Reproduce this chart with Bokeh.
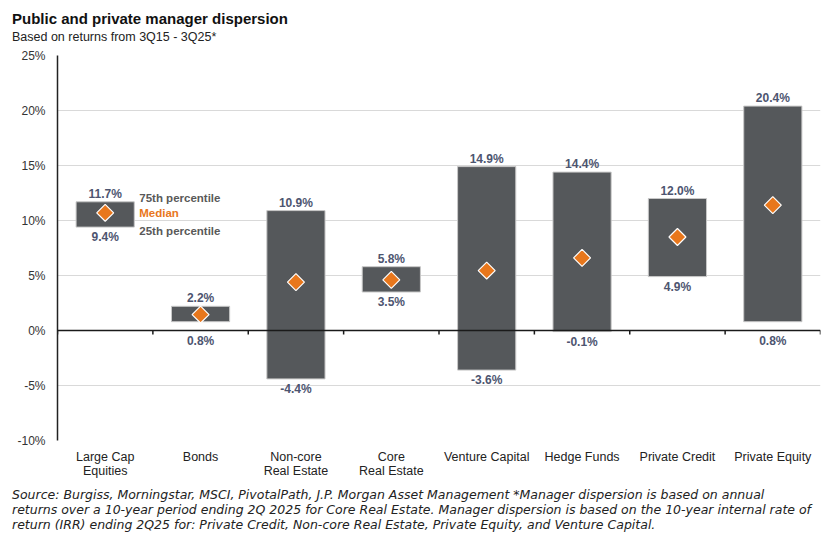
import numpy as np
from bokeh.plotting import figure
from bokeh.models import (Range1d, FixedTicker, PrintfTickFormatter, Span, Div,
                          ColumnDataSource)
from bokeh.layouts import column
from bokeh.core.properties import value
from bokeh.embed import file_html
from bokeh.resources import INLINE

# ---------------- data ----------------
categories = ["Large Cap\nEquities", "Bonds", "Non-core\nReal Estate", "Core\nReal Estate",
              "Venture Capital", "Hedge Funds", "Private Credit", "Private Equity"]
p75 = [11.7, 2.2, 10.9, 5.8, 14.9, 14.4, 12.0, 20.4]
p25 = [9.4, 0.8, -4.4, 3.5, -3.6, -0.1, 4.9, 0.8]
median = [10.7, 1.45, 4.4, 4.6, 5.45, 6.6, 8.5, 11.4]
y_ticks = [-10, -5, 0, 5, 10, 15, 20, 25]
legend_texts = ["75th percentile", "Median", "25th percentile"]

title_text = "Public and private manager dispersion"
subtitle_text = "Based on returns from 3Q15 - 3Q25*"
footer_lines = [
    "Source: Burgiss, Morningstar, MSCI, PivotalPath, J.P. Morgan Asset Management *Manager dispersion is based on annual",
    "returns over a 10-year period ending 2Q 2025 for Core Real Estate. Manager dispersion is based on the 10-year internal rate of",
    "return (IRR) ending 2Q25 for: Private Credit, Non-core Real Estate, Private Equity, and Venture Capital.",
]

# ---------------- styles ----------------
BAR = "#55585b"
ORANGE = "#e8771c"
LBL = "#4d5570"
FONT = "Liberation Sans"
BAR_W = 0.61

n = len(categories)
xs = np.arange(n)
p25a = np.array(p25)
# labels of bottoms that sit at the zero line are moved below it
bot_anchor = np.where(np.abs(p25a) < 1.0, np.minimum(p25a, 0.0), p25a)
src = ColumnDataSource(dict(
    x=xs, top=p75, bottom=p25, med=median,
    top_lbl=[f"{v:.1f}%" for v in p75],
    bot_lbl=[f"{v:.1f}%" for v in p25],
    bot_anchor=bot_anchor,
))

p = figure(frame_width=763, frame_height=385, min_border_left=57, min_border_right=8,
           min_border_top=7, min_border_bottom=48,
           x_range=Range1d(-0.5, n - 0.5), y_range=Range1d(y_ticks[0], y_ticks[-1]),
           output_backend="svg", toolbar_location=None, tools="")
p.outline_line_color = None
p.background_fill_color = "white"
p.border_fill_color = "white"

# grid
p.xgrid.grid_line_color = None
p.ygrid.grid_line_color = "#d9d9d9"
p.ygrid.grid_line_width = 1
p.ygrid.ticker = FixedTicker(ticks=y_ticks)

# y axis
p.yaxis.ticker = FixedTicker(ticks=y_ticks)
p.yaxis.formatter = PrintfTickFormatter(format="%d%%")
p.yaxis.axis_line_color = "#222222"
p.yaxis.axis_line_width = 1.5
p.yaxis.major_tick_line_color = None
p.yaxis.major_tick_out = 0
p.yaxis.major_tick_in = 0
p.yaxis.minor_tick_line_color = None
p.yaxis.minor_tick_out = 0
p.yaxis.major_label_standoff = 12
p.yaxis.major_label_text_font = FONT
p.yaxis.major_label_text_font_size = "12px"
p.yaxis.major_label_text_color = "#333333"

# x axis
p.xaxis.ticker = FixedTicker(ticks=list(xs))
p.xaxis.major_label_overrides = {int(i): c for i, c in zip(xs, categories)}
p.xaxis.axis_line_color = None
p.xaxis.major_tick_line_color = None
p.xaxis.major_tick_out = 0
p.xaxis.major_tick_in = 0
p.xaxis.minor_tick_line_color = None
p.xaxis.minor_tick_out = 0
p.xaxis.major_label_standoff = 9
p.xaxis.major_label_text_font = FONT
p.xaxis.major_label_text_font_size = "12.5px"
p.xaxis.major_label_text_line_height = 1.05
p.xaxis.major_label_text_color = "#222222"

# bars
p.vbar(x="x", top="top", bottom="bottom", width=BAR_W, source=src,
       fill_color=BAR, line_color="#c8c8c8", line_width=1)

# zero line with boundary ticks
p.add_layout(Span(location=0, dimension="width", line_color="#1a1a1a", line_width=1.5))
bounds = np.arange(n + 1) - 0.5
p.segment(x0=bounds, y0=np.zeros(n + 1), x1=bounds, y1=np.full(n + 1, -0.36),
          line_color="#1a1a1a", line_width=1.5)

# medians
p.scatter(x="x", y="med", source=src, marker="square", angle=np.pi / 4, size=12,
          fill_color=ORANGE, line_color="white", line_width=1.2)

# value labels
p.text(x="x", y="top", text="top_lbl", source=src, text_align="center",
       text_baseline="bottom", y_offset=-1, text_font=value(FONT),
       text_font_size="12px", text_font_style="bold", text_color=LBL)
p.text(x="x", y="bot_anchor", text="bot_lbl", source=src, text_align="center",
       text_baseline="top", y_offset=3, text_font=value(FONT),
       text_font_size="12px", text_font_style="bold", text_color=LBL)

# legend annotations beside first bar
lx = xs[0] + BAR_W / 2
p.text(x=[lx] * 3, y=[p75[0], median[0], p25[0]], text=legend_texts,
       x_offset=5, y_offset=[-4, 0, 4], text_align="left", text_baseline="middle",
       text_font=value(FONT), text_font_size="11.5px", text_font_style="bold",
       text_color=["#595959", ORANGE, "#595959"])

title_div = Div(width=828, height=48, margin=(0, 0, 0, 0), text=(
    f'<div style="font-family:\'Liberation Sans\',Arial,sans-serif;padding-left:12px;padding-top:10px;">'
    f'<div style="font-size:15px;font-weight:bold;color:#111;line-height:18px;">{title_text}</div>'
    f'<div style="font-size:12.5px;color:#222;line-height:16px;margin-top:1px;">{subtitle_text}</div></div>'))

footer_div = Div(width=828, height=50, margin=(0, 0, 0, 0), text=(
    '<div style="font-family:\'DejaVu Sans\',sans-serif;font-style:italic;font-size:12.5px;'
    'letter-spacing:0px;color:#222;line-height:15px;padding-left:12px;margin-top:-1px;'
    'white-space:nowrap;">'
    + "<br>".join(footer_lines) + '</div>'))

layout = column(title_div, p, footer_div, spacing=0)
open("out.html", "w").write(file_html(layout, INLINE))
